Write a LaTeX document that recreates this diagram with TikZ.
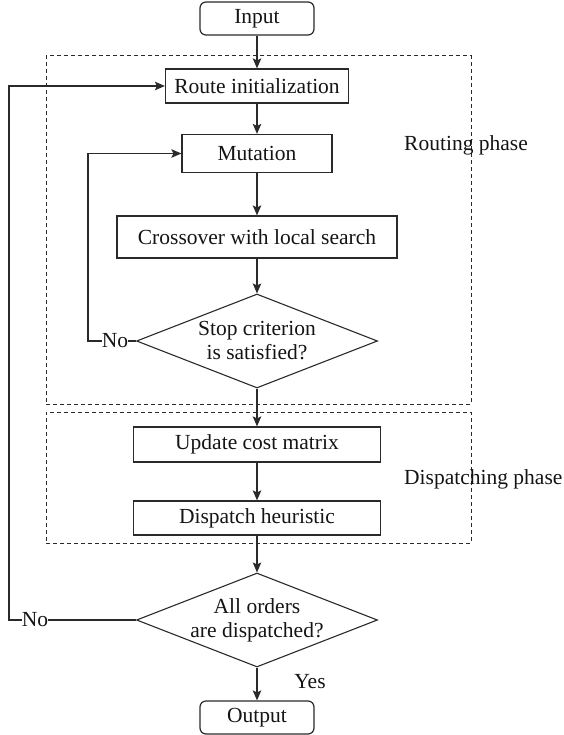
\documentclass[tikz,border=0pt]{standalone}
\usepackage{fontspec}
\setmainfont{Liberation Serif}
\usetikzlibrary{shapes.geometric,arrows.meta}
\definecolor{ink}{HTML}{141414}
\definecolor{edge}{HTML}{2A2A2A}
\begin{document}
\begin{tikzpicture}[x=1pt,y=-1pt,
  every node/.style={font=\fontsize{21.5}{24}\selectfont, text=ink},
  box/.style={draw=edge, line width=1.2pt, inner sep=0pt, fill=white},
  term/.style={box, rounded corners=6pt, minimum width=114pt, minimum height=33pt},
  dia/.style={draw=edge, line width=1.1pt, shape=diamond, inner sep=0pt,
              minimum width=241pt, minimum height=94pt},
  phasebox/.style={draw=edge, line width=1pt, dash pattern=on 4pt off 3pt, inner sep=0pt},
  lab/.style={inner sep=0pt},
  conn/.style={draw=edge, line width=1.2pt},
  arr/.style={conn, -{Stealth[length=10pt,width=8.5pt,inset=2pt]}}
]
\useasboundingbox (0,0) rectangle (563,735);

% phase frames
\node[phasebox, minimum width=425pt, minimum height=348pt] (rp) at (258.5,230) {};
\node[phasebox, minimum width=425pt, minimum height=131pt] (dp) at (258.5,477.5) {};
\node[lab, anchor=west] (rl) at (404,145) {Routing phase};
\node[lab, anchor=west] (dl) at (404,479) {Dispatching phase};

% main nodes
\node[term] (in) at (257,18.5) {Input};
\node[box, minimum width=183pt, minimum height=34pt] (ri) at (257,86) {Route initialization};
\node[box, minimum width=150pt, minimum height=38pt] (mu) at (257,153.5) {Mutation};
\node[box, minimum width=280pt, minimum height=42pt] (cx) at (257,237) {Crossover with local search};
\node[dia, label={[align=center, inner sep=0pt]center:Stop criterion\\is satisfied?}] (d1) at (257,341) {};
\node[box, minimum width=247pt, minimum height=35pt] (uc) at (257,444.5) {Update cost matrix};
\node[box, minimum width=247pt, minimum height=34pt] (dh) at (257,518) {Dispatch heuristic};
\node[dia, label={[align=center, inner sep=0pt]center:All orders\\are dispatched?}] (d2) at (257,620) {};
\node[term] (out) at (257,717.5) {Output};

% labels
\node[lab] (no1) at (115,341) {No};
\node[lab] (no2) at (35,620) {No};
\node[lab] (yes) at (310,682) {Yes};
\coordinate (l1) at (88,341);
\coordinate (l2) at (9,620);

% connectors
\draw[arr] (in) -- (ri);
\draw[arr] (ri) -- (mu);
\draw[arr] (mu) -- (cx);
\draw[arr] (cx) -- (d1);
\draw[arr] (d1) -- (uc);
\draw[arr] (uc) -- (dh);
\draw[arr] (dh) -- (d2);
\draw[arr] (d2) -- (out);
\draw[conn] (d1.west) -- (no1.east);
\draw[arr] (no1.west) -- (l1) |- (mu.west);
\draw[conn] (d2.west) -- (no2.east);
\draw[arr] (no2.west) -- (l2) |- (ri.west);
\end{tikzpicture}
\end{document}
